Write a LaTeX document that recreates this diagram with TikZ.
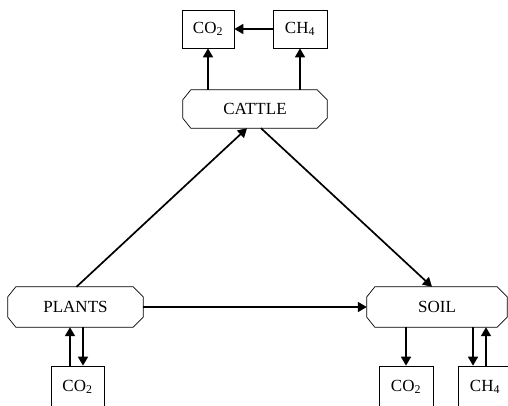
\documentclass[tikz,border=0pt]{standalone}
\usepackage{fontspec}
\setmainfont{Liberation Serif}
\usetikzlibrary{arrows.meta,calc}
\tikzset{
  oct/.style={rectangle, draw=none, inner sep=0pt, font=\fontsize{17}{20}\selectfont},
  bx/.style={rectangle, draw, line width=0.7pt, inner sep=0pt, font=\fontsize{17}{20}\selectfont},
  arr/.style={line width=1.7pt, -{Triangle[length=9pt,width=10pt]}},
  octline/.style={line width=0.7pt}
}
\newcommand\octo[1]{\draw[octline] ($(#1.north west)+(8,0)$) -- ($(#1.north east)+(-10,0)$) -- ($(#1.north east)+(0,10)$) -- ($(#1.south east)+(0,-10)$) -- ($(#1.south east)+(-10,0)$) -- ($(#1.south west)+(8,0)$) -- ($(#1.south west)+(0,-10)$) -- ($(#1.north west)+(0,10)$) -- cycle;}
\begin{document}
\begin{tikzpicture}[x=1pt,y=-1pt]
\useasboundingbox (0,0) rectangle (508,405);
% main nodes
\node[oct, minimum width=144, minimum height=38] (cattle) at (255,109) {CATTLE\hspace{15pt}};
\node[oct, minimum width=135, minimum height=40] (plants) at (75.5,307) {PLANTS\hspace{34pt}};
\node[oct, minimum width=140, minimum height=40] (soil) at (437,307) {SOIL};
\octo{cattle}
\octo{plants}
\octo{soil}
% boxes
\node[bx, minimum width=52, minimum height=38] (tco2) at (208,29) {CO\textsubscript{2}};
\node[bx, minimum width=54, minimum height=38] (tch4) at (300,29) {CH\textsubscript{4}};
\node[bx, minimum width=53, minimum height=44] (pco2) at (77.5,388) {\raisebox{5pt}{CO\textsubscript{2}}};
\node[bx, minimum width=54, minimum height=44] (sco2) at (406,388) {\raisebox{5pt}{CO\textsubscript{2}}};
\node[bx, minimum width=54, minimum height=44] (sch4) at (485,388) {\raisebox{5pt}{CH\textsubscript{4}}};
% connectors
\draw[arr] (tch4.west) -- (tco2.east);
\draw[arr] (cattle.north -| tco2.south) -- (tco2.south);
\draw[arr] (cattle.north -| tch4.south) -- (tch4.south);
\draw[arr] ($(plants.north)+(1,0)$) -- ($(cattle.south)+(-8,0)$);
\draw[arr] ($(cattle.south)+(6,0)$) -- ($(soil.north)+(-5,0)$);
\draw[arr] (plants.east) -- (soil.west);
\draw[arr] ($(pco2.north)+(-7.5,0)$) -- ($(plants.south -| pco2.north)+(-7.5,0)$);
\draw[arr] ($(plants.south -| pco2.north)+(5.5,0)$) -- ($(pco2.north)+(5.5,0)$);
\draw[arr] (soil.south -| sco2.north) -- (sco2.north);
\draw[arr] ($(soil.south -| sch4.north)+(-12,0)$) -- ($(sch4.north)+(-12,0)$);
\draw[arr] ($(sch4.north)+(1,0)$) -- ($(soil.south -| sch4.north)+(1,0)$);
\end{tikzpicture}
\end{document}
